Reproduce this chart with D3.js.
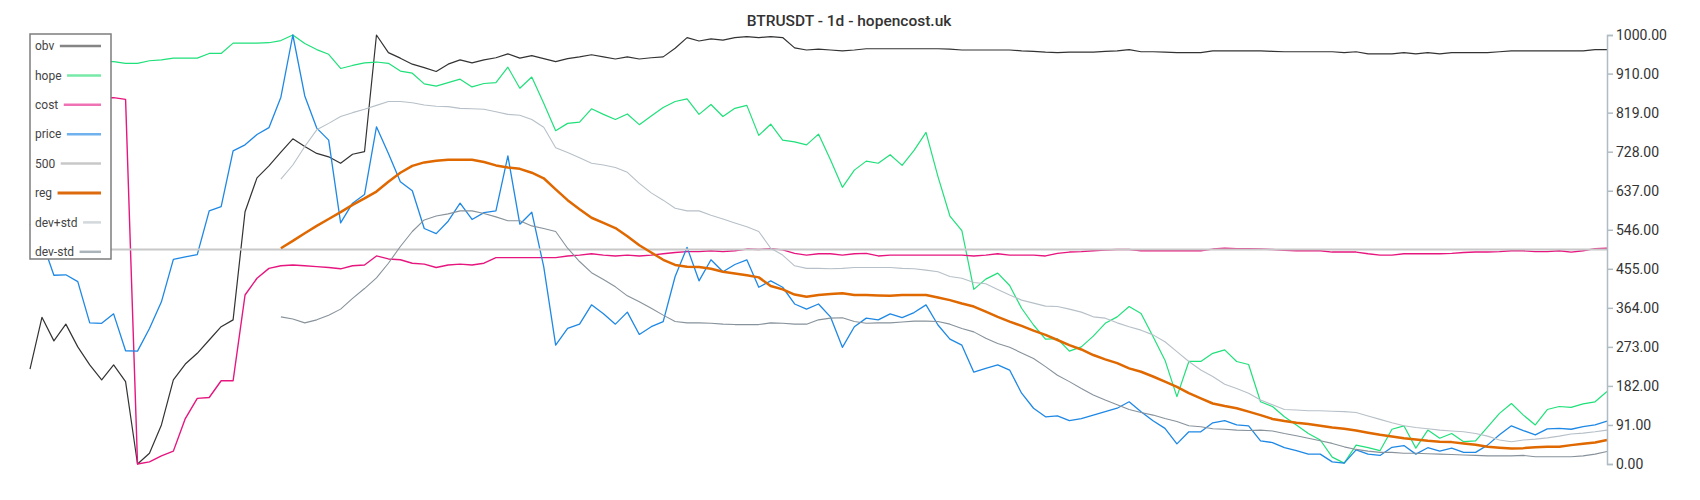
<!DOCTYPE html>
<html>
<head>
    <meta charset="utf-8">
    <title>BTRUSDT - 1d</title>
    <style type="text/css">
    body { margin: 0; background: #fff; }
    svg { display: block; font-family: Roboto, "Noto Sans", sans-serif; }
    </style>
</head>
<body>
  <script src="https://cdn.jsdelivr.net/npm/d3@7"></script>
  <script>

    //values, 133 daily points, normalised to 0..1000
    var obv = [221, 342, 287, 326, 273, 231, 196, 231, 192, 0,
      25, 91, 196, 233, 258, 289, 320, 336, 588, 667,
      695, 727, 758, 740, 724, 716, 701, 722, 728, 1000,
      959, 946, 932, 924, 915, 932, 942, 935, 942, 947,
      956, 946, 952, 945, 938, 945, 949, 954, 949, 944,
      949, 944, 947, 949, 969, 994, 986, 991, 988, 994,
      996, 994, 996, 994, 970, 965, 967, 965, 963, 965,
      968, 968, 968, 968, 968, 968, 968, 967, 965, 965,
      965, 965, 965, 963, 962, 960, 959, 960, 960, 960,
      962, 963, 966, 961, 961, 960, 959, 959, 959, 963,
      963, 963, 963, 963, 962, 961, 961, 961, 961, 961,
      959, 961, 956, 956, 956, 959, 956, 959, 956, 959,
      959, 959, 959, 961, 963, 963, 963, 963, 963, 963,
      963, 966, 966];

    var hope = [925, 930, 935, 930, 932, 936, 938, 938, 934, 934,
      940, 942, 946, 946, 946, 957, 957, 981, 981, 981,
      982, 987, 1000, 980, 966, 955, 922, 929, 935, 937,
      934, 916, 911, 886, 881, 889, 897, 879, 887, 889,
      925, 876, 902, 841, 777, 794, 797, 828, 815, 803,
      816, 791, 811, 831, 845, 851, 815, 838, 810, 829,
      836, 766, 792, 755, 751, 744, 769, 709, 645, 685,
      706, 701, 721, 696, 731, 773, 670, 578, 544, 407,
      431, 445, 416, 363, 324, 291, 292, 263, 273, 298,
      328, 343, 367, 351, 297, 242, 157, 239, 239, 258,
      266, 239, 232, 145, 134, 110, 91, 71, 56, 16,
      2, 44, 38, 31, 81, 89, 37, 79, 60, 71,
      52, 54, 86, 118, 141, 114, 91, 127, 134, 132,
      140, 145, 169];

    var cost = [845, 848, 850, 852, 850, 851, 853, 854, 850, 0,
      5, 19, 30, 106, 153, 155, 194, 194, 394, 433,
      456, 462, 464, 462, 460, 458, 455, 462, 464, 485,
      478, 476, 468, 466, 458, 464, 466, 464, 468, 481,
      481, 481, 481, 481, 481, 485, 487, 490, 487, 485,
      487, 485, 487, 490, 493, 495, 495, 497, 495, 497,
      501, 500, 502, 499, 491, 487, 490, 490, 487, 490,
      491, 485, 487, 487, 487, 487, 487, 487, 487, 485,
      487, 490, 487, 487, 487, 485, 491, 494, 495, 497,
      499, 500, 500, 497, 497, 497, 497, 497, 497, 501,
      503, 502, 502, 501, 500, 498, 497, 497, 497, 494,
      494, 494, 490, 487, 487, 490, 490, 490, 490, 491,
      493, 494, 494, 495, 497, 497, 495, 495, 497, 494,
      497, 502, 503];

    var price = [560, 520, 440, 441, 425, 329, 328, 350, 264, 263,
      316, 378, 477, 483, 488, 590, 600, 730, 744, 768,
      784, 855, 1000, 858, 783, 755, 562, 608, 628, 786,
      724, 658, 637, 549, 537, 566, 608, 570, 586, 590,
      718, 559, 587, 460, 277, 316, 326, 371, 350, 326,
      354, 302, 320, 332, 437, 505, 427, 476, 448, 465,
      476, 412, 427, 412, 373, 361, 373, 343, 272, 320,
      340, 336, 350, 341, 353, 371, 324, 291, 277, 214,
      223, 231, 219, 165, 130, 110, 112, 101, 106, 114,
      122, 130, 145, 122, 101, 83, 47, 75, 75, 96,
      101, 91, 89, 54, 50, 38, 31, 23, 23, 5,
      2, 33, 23, 20, 39, 43, 23, 38, 30, 37,
      27, 27, 44, 68, 89, 78, 68, 82, 83, 81,
      87, 91, 100];

    //regression and bands only start on day 21
    var reg = [null, null, null, null, null, null, null, null, null, null,
      null, null, null, null, null, null, null, null, null, null,
      null, 503, 520, 538, 555, 571, 587, 604, 619, 635,
      658, 679, 695, 703, 707, 709, 709, 709, 704, 696,
      691, 688, 679, 666, 640, 615, 594, 574, 562, 550,
      531, 510, 493, 476, 464, 460, 459, 455, 448, 444,
      440, 435, 415, 407, 395, 390, 394, 396, 398, 394,
      394, 393, 392, 394, 394, 394, 388, 382, 374, 367,
      355, 343, 332, 322, 311, 301, 289, 277, 267, 254,
      244, 235, 223, 215, 204, 192, 180, 165, 153, 141,
      135, 130, 122, 114, 105, 100, 96, 93, 89, 85,
      82, 78, 73, 68, 64, 60, 57, 54, 52, 51,
      48, 45, 40, 38, 36, 37, 39, 40, 40, 44,
      47, 50, 56];

    var devPlus = [null, null, null, null, null, null, null, null, null, null,
      null, null, null, null, null, null, null, null, null, null,
      null, 664, 697, 740, 779, 794, 810, 819, 827, 836,
      845, 845, 842, 837, 834, 833, 829, 828, 827, 821,
      815, 813, 803, 785, 737, 726, 714, 701, 697, 691,
      680, 654, 632, 615, 596, 590, 590, 580, 571, 562,
      553, 542, 503, 487, 462, 456, 456, 455, 456, 458,
      458, 458, 458, 456, 455, 452, 448, 437, 433, 423,
      420, 407, 394, 382, 375, 368, 367, 361, 354, 343,
      340, 329, 320, 312, 301, 285, 262, 239, 219, 204,
      186, 176, 165, 149, 138, 127, 126, 124, 124, 123,
      122, 120, 112, 104, 96, 89, 85, 82, 79, 77,
      75, 71, 65, 56, 52, 56, 58, 61, 65, 70,
      72, 75, 79];

    var devMinus = [null, null, null, null, null, null, null, null, null, null,
      null, null, null, null, null, null, null, null, null, null,
      null, 343, 338, 329, 336, 347, 361, 386, 409, 434,
      468, 507, 542, 569, 578, 583, 590, 590, 584, 576,
      567, 567, 555, 549, 542, 503, 472, 446, 430, 413,
      392, 378, 363, 347, 332, 329, 329, 328, 326, 325,
      325, 325, 329, 328, 326, 326, 336, 340, 341, 332,
      328, 329, 329, 331, 333, 333, 332, 326, 316, 308,
      293, 281, 272, 259, 246, 227, 207, 192, 176, 161,
      149, 138, 127, 120, 114, 106, 99, 89, 87, 82,
      81, 79, 78, 79, 77, 71, 66, 60, 54, 48,
      40, 34, 30, 27, 27, 25, 25, 24, 23, 22,
      21, 20, 19, 19, 19, 20, 17, 17, 17, 17,
      19, 23, 29];

    var level = 500;
    var yTicks = [0, 91, 182, 273, 364, 455, 546, 637, 728, 819, 910, 1000];
    var title = "BTRUSDT - 1d - hopencost.uk";

    var margin = {top: 35, right: 93, bottom: 36, left: 30},
        width  = 1700 - margin.left - margin.right,
        height = 500 - margin.top - margin.bottom;

    var svg = d3.select("body")
      .append("svg")
      .attr("width", 1700)
      .attr("height", 500);

    var chart = svg.append("g")
      .attr("transform", "translate(" + margin.left + "," + margin.top + ")");

    //scales
    var xScale = d3.scaleLinear()
      .domain([0, obv.length - 1])
      .range([0, width]);

    var yScale = d3.scaleLinear()
      .domain([0, 1000])
      .range([height, 0]);

    var series = [
      {name: "obv",     values: obv,      color: "#333333", width: 1.2, legend: "#858585"},
      {name: "hope",    values: hope,     color: "#1fe07a", width: 1.2, legend: "#76e9a6"},
      {name: "cost",    values: cost,     color: "#e6167f", width: 1.4, legend: "#ef72b4"},
      {name: "price",   values: price,    color: "#1e88e5", width: 1.3, legend: "#6fb2ee"},
      {name: "500",     values: obv.map(function(){ return level; }), color: "#c8c8c8", width: 2, legend: "#c8c8c8"},
      {name: "reg",     values: reg,      color: "#df6800", width: 2.5, legend: "#dd6a0c"},
      {name: "dev+std", values: devPlus,  color: "#b7c0c8", width: 1.1, legend: "#d3d8dc"},
      {name: "dev-std", values: devMinus, color: "#87929b", width: 1.1, legend: "#aab3ba"}
    ];

    var line = d3.line()
      .defined(function(d){ return d != null; })
      .x(function(d, i){ return xScale(i); })
      .y(function(d){ return yScale(d); });

    chart.selectAll("path.series")
      .data(series)
      .enter()
      .append("path")
      .attr("class", "series")
      .attr("fill", "none")
      .attr("stroke", function(d){ return d.color; })
      .attr("stroke-width", function(d){ return d.width; })
      .attr("stroke-linejoin", "round")
      .attr("d", function(d){ return line(d.values); });

    //y axis on the right
    var yAxis = chart.append("g")
      .attr("transform", "translate(" + width + ",0)")
      .call(d3.axisRight(yScale).tickValues(yTicks).tickFormat(d3.format(".2f")));

    yAxis.selectAll("path, line").attr("stroke", "#b0bcc4").attr("stroke-width", 1.5);
    yAxis.selectAll("text")
      .style("font-family", "Roboto, sans-serif")
      .style("font-size", "14px")
      .attr("fill", "#333");

    //title
    svg.append("text")
      .attr("x", 849)
      .attr("y", 26)
      .text(title)
      .style("text-anchor", "middle")
      .style("font-size", "15.5px")
      .style("font-weight", "500")
      .attr("fill", "#333");

    //legend box, top left over the lines
    var legend = svg.append("g")
      .attr("class", "legend")
      .attr("transform", "translate(30,34)");

    legend.append("rect")
      .attr("width", 81)
      .attr("height", 225)
      .attr("fill", "#fff")
      .attr("stroke", "#7d7d7d")
      .attr("stroke-width", 1.5);

    var item = legend.selectAll("g.item")
      .data(series)
      .enter()
      .append("g")
      .attr("class", "item")
      .attr("transform", function(d, i){ return "translate(0," + (12 + i * 29.4) + ")"; });

    item.append("text")
      .attr("x", 5)
      .attr("y", 0)
      .attr("dy", "0.35em")
      .text(function(d){ return d.name; })
      .style("font-size", "12px")
      .attr("fill", "#444");

    item.each(function(d){
      var g = d3.select(this);
      var w = g.select("text").node().getComputedTextLength();
      g.append("line")
        .attr("x1", 5 + w + 5.5)
        .attr("x2", 71)
        .attr("y1", 0)
        .attr("y2", 0)
        .attr("stroke", d.legend)
        .attr("stroke-width", d.name == "reg" ? 3 : 2.5);
    });

  </script>
</body>
</html>
